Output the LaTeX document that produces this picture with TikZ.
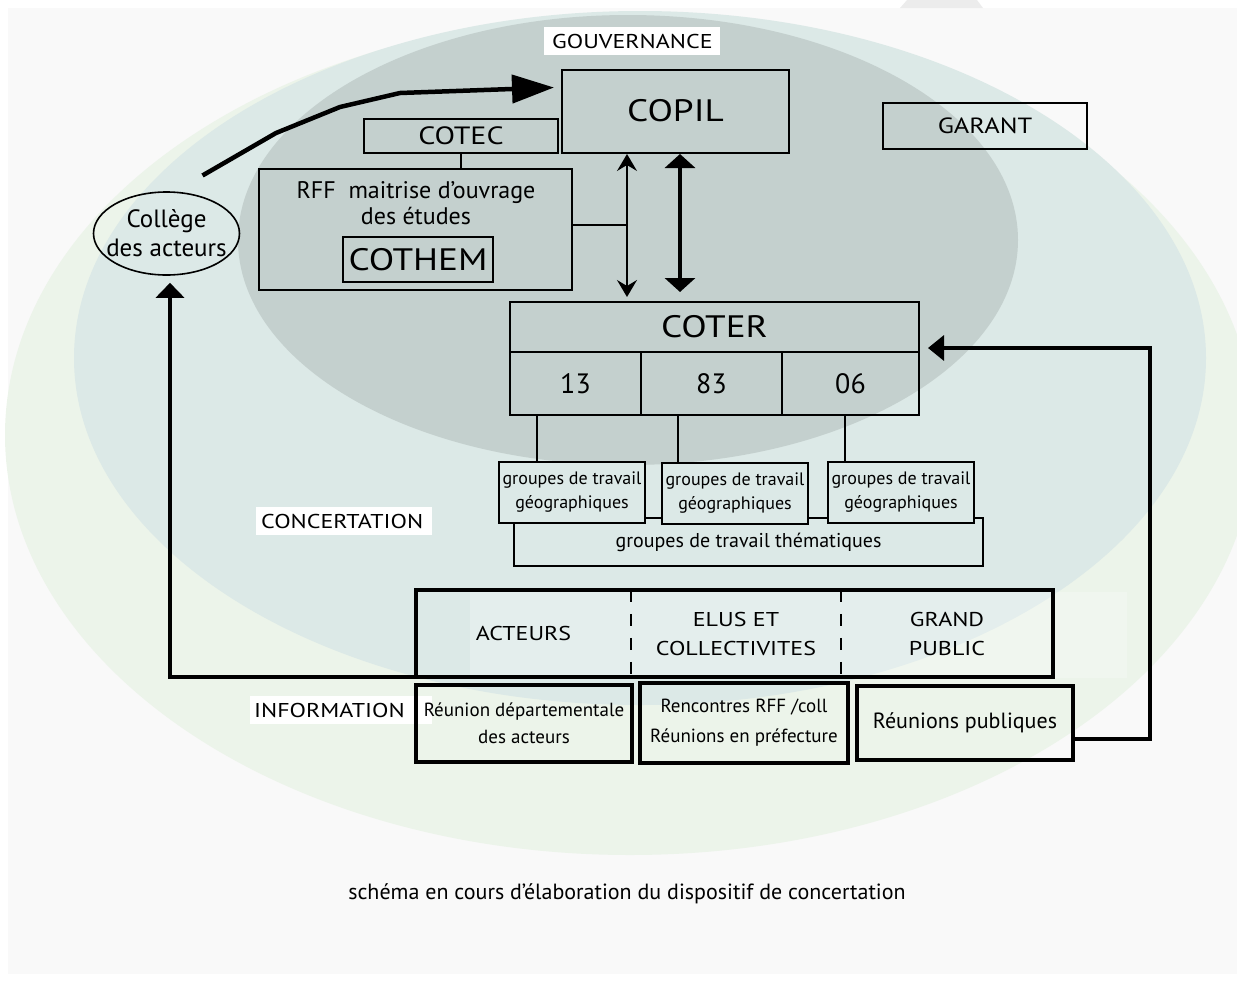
\documentclass[tikz,border=0pt]{standalone}
\usepackage{fontspec}
\setmainfont{PT Sans}
\newfontfamily\capsfont[FakeStretch=1.2]{PT Sans}
\usetikzlibrary{arrows.meta,shapes.geometric,calc}

\definecolor{paper}{HTML}{F9F9F9}
\definecolor{greenring}{HTML}{ECF4EA}
\definecolor{bluering}{HTML}{DCE9E7}
\definecolor{darkring}{HTML}{C4D0CE}

\newcommand{\fsz}[2]{\fontsize{#1}{#2}\selectfont}

\begin{document}
\begin{tikzpicture}[x=1pt,y=-1pt,
  box/.style={draw, line width=2pt, inner sep=0pt, align=center},
  heavybox/.style={draw, line width=4pt, inner sep=0pt, align=center},
  tagbg/.style={fill=white, inner ysep=0pt, minimum height=28pt, align=left, anchor=west, font=\capsfont\fsz{20}{24}},
  audience/.style={minimum height=87pt, inner sep=0pt, align=center, font=\capsfont\fsz{20}{29}},
  geobox/.style={box, fill=bluering, minimum width=146pt, minimum height=61pt, font=\fsz{18}{24}},
  dept/.style={box, minimum height=63pt, font=\fsz{28}{30}},
  link/.style={line width=1.8pt},
  flow/.style={line width=4.5pt, line join=round},
]
\useasboundingbox (0,0) rectangle (1237,980);
\fill [paper] (8,8) rectangle (1237,974);
\fill [gray!15] (900,8) -- (907,0) -- (977,0) -- (983,8) -- cycle;

% the three rings
\fill [greenring] (630,435) ellipse [x radius=625pt, y radius=420pt];
\fill [bluering] (640,358) ellipse [x radius=566pt, y radius=347pt];
\fill [darkring] (628,240) ellipse [x radius=390pt, y radius=225pt];
\fill [white, opacity=0.25] (470,592) rectangle (1127,678);

% ring names
\node[tagbg, inner xsep=8pt, text width=160pt] (gouv) at (544,41) {GOUVERNANCE};
\node[tagbg, inner xsep=5pt, text width=166pt] (conc) at (256,521) {CONCERTATION};
\node[tagbg, inner xsep=4pt, text width=174pt] (info) at (250,710) {INFORMATION};

% governance
\node[box, minimum width=227pt, minimum height=83pt, font=\capsfont\fsz{31}{32}] (copil) at (675.5,111.5) {\raisebox{3pt}{COPIL}};
\node[box, minimum width=194pt, minimum height=34pt, font=\capsfont\fsz{25}{26}] (cotec) at (461,136) {COTEC};
\node[box, minimum width=313pt, minimum height=121pt] (rff) at (415.5,229.5) {};
\node[font=\fsz{24}{26}, align=center] (rfftxt) at (416,203) {RFF\ \ maitrise d’ouvrage\\des études};
\node[box, minimum width=150pt, minimum height=45pt, font=\capsfont\fsz{31}{32}] (cothem) at (418,259.5) {COTHEM};
\node[box, minimum width=204pt, minimum height=46pt, font=\capsfont\fsz{22}{24}] (garant) at (985,126) {GARANT};
\node[draw, line width=1.6pt, ellipse, minimum width=146pt, minimum height=83pt, inner sep=0pt] (college) at (166.5,233.5) {};
\node[font=\fsz{25}{29}, align=center] (collegetxt) at (college) {Collège\\des acteurs};

% COTER and departments
\node[box, minimum width=409pt, minimum height=50pt, font=\capsfont\fsz{31}{32}] (coter) at (714.5,327) {COTER};
\node[dept, minimum width=131pt] (d13) at (575.5,383.5) {13};
\node[dept, minimum width=141pt] (d83) at (711.5,383.5) {83};
\node[dept, minimum width=137pt] (d06) at (850.5,383.5) {06};

% working groups
\node[box, fill=bluering, minimum width=469pt, minimum height=48pt, font=\fsz{20}{24}] (theme) at (748.5,542) {groupes de travail thématiques};
\node[geobox] (geo1) at (572,492.5) {groupes de travail\\géographiques};
\node[geobox] (geo2) at (735,493) {groupes de travail\\géographiques};
\node[geobox] (geo3) at (901,492.5) {groupes de travail\\géographiques};

% audiences
\node[audience, minimum width=215pt] (acteurs) at (523.5,633.5) {ACTEURS};
\node[audience, minimum width=210pt] (elus) at (736,633.5) {ELUS ET\\COLLECTIVITES};
\node[audience, minimum width=212pt] (public) at (947,633.5) {GRAND\\PUBLIC};
\draw[line width=4pt] (acteurs.north west) rectangle (public.south east);
\draw[line width=2pt, dash pattern=on 12pt off 12pt] (acteurs.north east) -- (acteurs.south east);
\draw[line width=2pt, dash pattern=on 12pt off 12pt] (elus.north east) -- (elus.south east);

% information meetings
\node[heavybox, minimum width=216pt, minimum height=77pt, font=\fsz{19}{27}] (depart) at (524,723.5) {Réunion départementale\\des acteurs};
\node[heavybox, minimum width=208pt, minimum height=80pt, font=\fsz{19}{30}] (rencontre) at (744,723) {Rencontres RFF /coll\\Réunions en préfecture};
\node[heavybox, minimum width=216pt, minimum height=74pt, font=\fsz{22}{24}] (publiques) at (965,723) {Réunions publiques};

\node[font=\fsz{22}{24}] (caption) at (627,894) {schéma en cours d’élaboration du dispositif de concertation};

% connectors
\coordinate (junc) at (627,225);
\coordinate (thk) at (680,0);
\coordinate (t13) at (537,0);
\coordinate (t83) at (678,0);
\coordinate (t06) at (845,0);
\draw[link] (cotec.south) -- (cotec.south |- rff.north);
\draw[link] ([yshift=4.5pt]rff.east) -- (junc);
\draw[link, {Stealth[length=17pt,width=20pt,inset=6pt]}-{Stealth[length=17pt,width=20pt,inset=6pt]}] (junc |- copil.south) -- ($(junc |- coter.north)+(0,-4)$);
\draw[flow, {Triangle[length=14pt,width=30pt]}-{Triangle[length=14pt,width=30pt]}] (thk |- copil.south) -- ($(thk |- coter.north)+(0,-9)$);
\draw[link] (t13 |- d13.south) -- (t13 |- geo1.north);
\draw[link] (t83 |- d83.south) -- (t83 |- geo2.north);
\draw[link] (t06 |- d06.south) -- (t06 |- geo3.north);
\draw[flow, -{Triangle[length=42pt,width=28pt]}] ($(college.center)+(36,-58)$) -- (276,133) -- (340,107) -- (400,93) -- ($(copil.west)+(-7,-24)$);
\draw[line width=4pt, -{Triangle[length=15pt,width=28pt]}] (acteurs.south west) -| ($(college.south)+(3.5,7)$);
\draw[line width=3.5pt, -{Triangle[length=16pt,width=25pt]}] ($(publiques.east)+(0,16)$) -- ++(75,0) |- ($(coter.south east)+(8,-5)$);
\end{tikzpicture}
\end{document}
